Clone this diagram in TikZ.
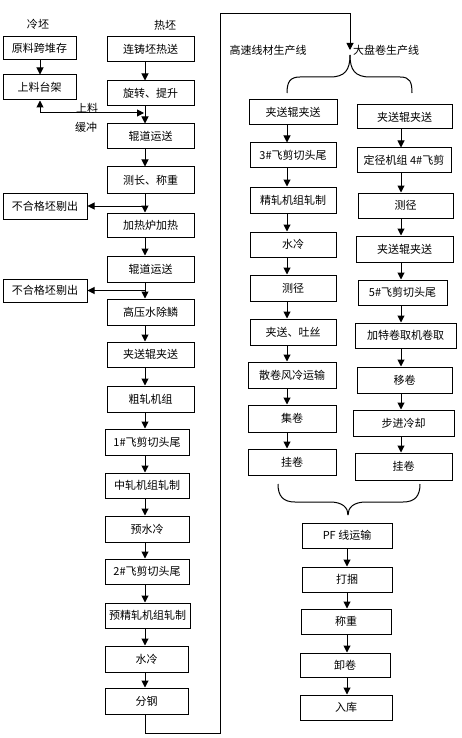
\documentclass[tikz,border=0pt]{standalone}
\usepackage{fontspec}
\setmainfont{Noto Sans CJK SC}
\usetikzlibrary{arrows.meta}
\newcommand\mybox[6]{\node[box, minimum width={#3pt-#2pt}, minimum height={#5pt-#4pt}] (#1) at ({(#2+#3)/2},{(#4+#5)/2}) {#6};}
\begin{document}
\begin{tikzpicture}[x=1pt,y=-1pt,
  box/.style={draw, line width=1pt, inner sep=0pt, font=\fontsize{11}{12}\selectfont},
  arr/.style={line width=1pt, -{Triangle[length=7pt,width=7pt]}},
  ln/.style={line width=1pt},
  lbl/.style={font=\fontsize{11}{12}\selectfont, inner sep=0pt}]
\useasboundingbox (0,0) rectangle (461,738);
% cold billet
\node[lbl] (lc) at (38,24) {冷坯};
\node[lbl] (lh) at (165,25) {热坯};
\mybox{c1}{3}{76}{37}{60}{原料跨堆存}
\mybox{c2}{3}{76}{75}{100}{上料台架}
% hot chain
\mybox{h1}{107}{194}{37}{62}{连铸坯热送}
\mybox{h2}{107}{194}{81}{106}{旋转、提升}
\mybox{h3}{107}{194}{124}{149}{辊道运送}
\mybox{h4}{107}{194}{167}{193}{测长、称重}
\mybox{r1}{3}{87}{193}{219}{不合格坯剔出}
\mybox{h5}{107}{194}{213}{237}{加热炉加热}
\mybox{h6}{107}{194}{256}{282}{辊道运送}
\mybox{r2}{3}{87}{279}{302}{不合格坯剔出}
\mybox{h7}{107}{194}{299}{325}{高压水除鳞}
\mybox{h8}{107}{194}{342}{367}{夹送辊夹送}
\mybox{h9}{107}{194}{386}{412}{粗轧机组}
\mybox{h10}{105}{189}{429}{455}{1\#飞剪切头尾}
\mybox{h11}{105}{189}{473}{498}{中轧机组轧制}
\mybox{h12}{105}{189}{516}{542}{预水冷}
\mybox{h13}{105}{189}{559}{584}{2\#飞剪切头尾}
\mybox{h14}{105}{190}{603}{628}{预精轧机组轧制}
\mybox{h15}{105}{188}{646}{672}{水冷}
\mybox{h16}{105}{188}{688}{714}{分钢}
% high speed wire line
\mybox{a1}{249}{337}{100}{125}{夹送辊夹送}
\mybox{a2}{250}{336}{143}{168}{3\#飞剪切头尾}
\mybox{a3}{250}{336}{187}{213}{精轧机组轧制}
\mybox{a4}{250}{336}{232}{257}{水冷}
\mybox{a5}{250}{336}{275}{301}{测径}
\mybox{a6}{250}{336}{319}{345}{夹送、吐丝}
\mybox{a7}{248}{336}{362}{388}{散卷风冷运输}
\mybox{a8}{248}{336}{405}{432}{集卷}
\mybox{a9}{248}{336}{449}{475}{挂卷}
% large coil line
\mybox{b1}{357}{452}{105}{129}{夹送辊夹送}
\mybox{b2}{357}{451}{148}{173}{定径机组 4\#飞剪}
\mybox{b3}{358}{453}{193}{218}{测径}
\mybox{b4}{356}{453}{236}{262}{夹送辊夹送}
\mybox{b5}{358}{447}{280}{305}{5\#飞剪切头尾}
\mybox{b6}{355}{456}{323}{348}{加特卷取机卷取}
\mybox{b7}{357}{452}{367}{393}{移卷}
\mybox{b8}{353}{454}{410}{436}{步进冷却}
\mybox{b9}{355}{452}{453}{480}{挂卷}
% PF line
\mybox{p1}{302}{392}{523}{548}{PF 线运输}
\mybox{p2}{302}{392}{567}{592}{打捆}
\mybox{p3}{301}{391}{609}{634}{称重}
\mybox{p4}{300}{390}{653}{677}{卸卷}
\mybox{p5}{300}{392}{695}{720}{入库}
% labels
\node[lbl] (l1) at (87,108) {上料};
\node[lbl] (l2) at (86,127) {缓冲};
\node[lbl] (l3) at (268,50) {高速线材生产线};
\node[lbl] (l4) at (386,50) {大盘卷生产线};
% spines
\coordinate (hs) at (145,0);
\coordinate (as) at (287,0);
\coordinate (bs) at (401,0);
\coordinate (ps) at (347,0);
\coordinate (cs) at (40,0);
\draw[arr] (c1.south -| cs) -- (c2.north -| cs);
\foreach \u/\v in {h1/h2,h2/h3,h3/h4,h4/h5,h5/h6,h6/h7,h7/h8,h8/h9,h9/h10,h10/h11,h11/h12,h12/h13,h13/h14,h14/h15,h15/h16}
  \draw[arr] (\u.south -| hs) -- (\v.north -| hs);
\foreach \u/\v in {a1/a2,a2/a3,a3/a4,a4/a5,a5/a6,a6/a7,a7/a8,a8/a9}
  \draw[arr] (\u.south -| as) -- (\v.north -| as);
\foreach \u/\v in {b1/b2,b2/b3,b3/b4,b4/b5,b5/b6,b6/b7,b7/b8,b8/b9}
  \draw[arr] (\u.south -| bs) -- (\v.north -| bs);
\foreach \u/\v in {p1/p2,p2/p3,p3/p4,p4/p5}
  \draw[arr] (\u.south -| ps) -- (\v.north -| ps);
% rejects
\draw[arr] (r1.east -| hs) -- (r1.east);
\draw[arr] (r2.east -| hs) -- (r2.east);
% loading / buffer
\coordinate (j1) at (144,113);
\draw[line width=1pt, {Triangle[length=7pt,width=7pt]}-{Triangle[length=7pt,width=7pt]}] (c2.south -| cs) |- (j1);
% long connector
\coordinate (k1) at (145,733);
\coordinate (k2) at (220,733);
\coordinate (k3) at (220,14);
\coordinate (k4) at (350,14);
\coordinate (k5) at (350,50);
\draw[arr] (h16.south -| hs) -- (k1) -- (k2) -- (k3) -- (k4) -- (k5);
% top brace
\draw[ln] (350,55) .. controls (350,70) and (345,77) .. (330,77) -- (300,77) .. controls (290,77) and (287,82) .. (287,93);
\draw[ln] (350,55) .. controls (350,70) and (355,77) .. (370,77) -- (400,77) .. controls (410,77) and (412,82) .. (412,93);
% bottom brace
\draw[ln] (278,484) .. controls (278,496) and (283,502) .. (295,502) -- (330,502) .. controls (343,502) and (348,508) .. (348,515);
\draw[ln] (420,484) .. controls (420,496) and (415,502) .. (403,502) -- (366,502) .. controls (353,502) and (348,508) .. (348,515);
\end{tikzpicture}
\end{document}
